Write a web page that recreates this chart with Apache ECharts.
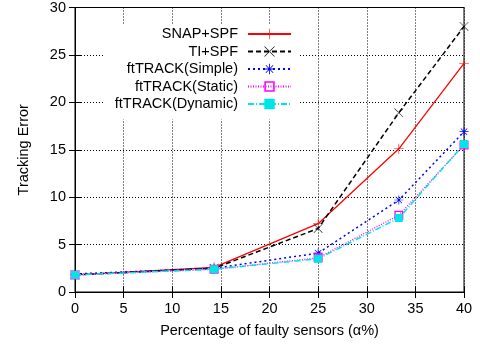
<!DOCTYPE html>
<html><head><meta charset="utf-8">
<script src="https://cdn.jsdelivr.net/npm/echarts@6/dist/echarts.min.js"></script>
<style>html,body{margin:0;padding:0;background:#fff}#c{width:480px;height:349px}</style>
</head><body><div id="c"></div>
<script>
const xValues = [0, 14.3, 25, 33.3, 40];
const seriesNames = ['SNAP+SPF', 'TI+SPF', 'ftTRACK(Simple)', 'ftTRACK(Static)', 'ftTRACK(Dynamic)'];
const snapSpf = [1.8, 2.6, 7.2, 15.1, 24.1];
const tiSpf = [1.8, 2.5, 6.7, 18.9, 28.0];
const ftSimple = [1.9, 2.5, 4.1, 9.7, 16.9];
const ftStatic = [1.8, 2.4, 3.6, 8.1, 15.5];
const ftDynamic = [1.8, 2.4, 3.5, 7.8, 15.6];
const xTicks = [0, 5, 10, 15, 20, 25, 30, 35, 40];
const yTicks = [0, 5, 10, 15, 20, 25, 30];

const pts = v => xValues.map((x, i) => [x, v[i]]);
const font = 'Liberation Sans, Arial, sans-serif';
const FS = 14.5;
const plus = 'path://M-0.6,-10H0.6V10H-0.6Z M-10,-0.6H10V0.6H-10Z';
const cross = 'path://M-10,-9.2L-9.2,-10L10,9.2L9.2,10Z M10,-9.2L9.2,-10L-10,9.2L-9.2,10Z';
const star = 'path://M-0.8,-10H0.8V10H-0.8Z M-10,-0.8H10V0.8H-10Z M-7.6,-6.5L-6.5,-7.6L7.6,6.5L6.5,7.6Z M7.6,-6.5L6.5,-7.6L-7.6,6.5L-6.5,7.6Z';
const openSq = 'path://M-10,-10H10V10H-10Z M-7,-7V7H7V-7Z';

const styles = [
  {color: '#ff0000', type: 'solid', symbol: plus, size: 10, width: 1.3},
  {color: '#000000', type: [5, 3], symbol: cross, size: 9, width: 1.5},
  {color: '#0000ff', type: [2, 3], symbol: star, size: 9, width: 1.5},
  {color: '#ff00ff', type: [1, 1.5], symbol: openSq, size: 9, width: 1.3},
  {color: '#00e5e5', type: [6, 2, 1, 2], symbol: 'rect', size: 8, width: 1.5}
];
const dataSets = [snapSpf, tiSpf, ftSimple, ftStatic, ftDynamic];

const chart = echarts.init(document.getElementById('c'));
chart.setOption({
  animation: false,
  grid: {left: 75, right: 16, top: 5, bottom: 57, show: true, borderColor: '#000', borderWidth: 1},
  legend: {
    orient: 'vertical', align: 'right', left: 104, top: 24.5,
    itemWidth: 43, itemHeight: 13, itemGap: 2.5,
    backgroundColor: '#fff', padding: [2, 6, 8, 8],
    data: seriesNames,
    formatter: '{a|{name}}',
    textStyle: {fontFamily: font, fontSize: FS, color: '#000',
      rich: {a: {width: 126, align: 'right', fontFamily: font, fontSize: FS, lineHeight: 13, padding: [0, 5, 0, 0]}}}
  },
  xAxis: [{
    type: 'value', min: 0, max: 40, interval: 5,
    name: 'Percentage of faulty sensors (\u03b1%)', nameLocation: 'middle', nameGap: 31,
    nameTextStyle: {fontFamily: font, fontSize: FS, color: '#000'},
    axisLine: {show: true, lineStyle: {color: '#000'}},
    axisTick: {show: true, inside: true, length: 6, lineStyle: {color: '#000'}},
    axisLabel: {fontFamily: font, fontSize: FS, color: '#000', margin: 9,
      formatter: v => xTicks.includes(v) ? String(v) : ''},
    splitLine: {show: true, lineStyle: {color: '#000', type: [1, 2], width: 1}}
  }, {
    type: 'value', min: 0, max: 40, interval: 5, position: 'top',
    axisLine: {show: true, lineStyle: {color: '#000'}},
    axisTick: {show: true, inside: true, length: 6, lineStyle: {color: '#000'}},
    axisLabel: {show: false}, splitLine: {show: false}
  }],
  yAxis: [{
    type: 'value', min: 0, max: 30, interval: 5,
    name: 'Tracking Error', nameLocation: 'middle', nameGap: 44,
    nameTextStyle: {fontFamily: font, fontSize: FS, color: '#000'},
    axisLine: {show: true, lineStyle: {color: '#000'}},
    axisTick: {show: true, inside: true, length: 6, lineStyle: {color: '#000'}},
    axisLabel: {fontFamily: font, fontSize: FS, color: '#000', margin: 9,
      formatter: v => yTicks.includes(v) ? String(v) : ''},
    splitLine: {show: true, lineStyle: {color: '#000', type: [1, 2], width: 1}}
  }, {
    type: 'value', min: 0, max: 30, interval: 5, position: 'right',
    axisLine: {show: true, lineStyle: {color: '#000'}},
    axisTick: {show: true, inside: true, length: 6, lineStyle: {color: '#000'}},
    axisLabel: {show: false}, splitLine: {show: false}
  }],
  series: seriesNames.map((name, i) => ({
    name, type: 'line', data: pts(dataSets[i]),
    symbol: styles[i].symbol, symbolSize: styles[i].size, showSymbol: true,
    lineStyle: {color: styles[i].color, type: styles[i].type, width: styles[i].width},
    itemStyle: {color: styles[i].color},
    z: 2 + i
  }))
});
</script></body></html>
